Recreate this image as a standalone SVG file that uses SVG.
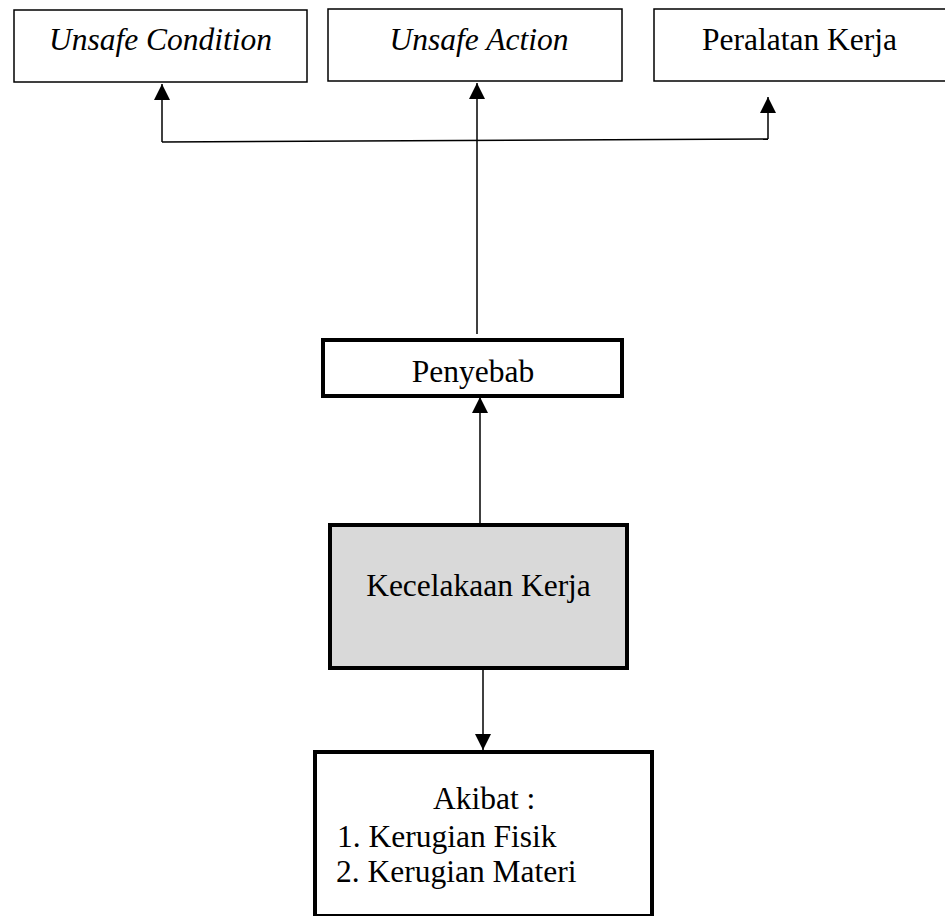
<svg xmlns="http://www.w3.org/2000/svg" width="945" height="916" viewBox="0 0 945 916">
<style>
  .t { font-family: 'Liberation Serif', 'DejaVu Serif', serif; font-size: 31.5px; fill: #000; }
  .it { font-style: italic; }
  .thin { fill: #fff; stroke: #000; stroke-width: 1.5; }
  .thick { fill: #fff; stroke: #000; stroke-width: 4; }
  .grey { fill: #d9d9d9; stroke: #000; stroke-width: 4; }
  .conn { stroke: #000; stroke-width: 1.5; fill: none; }
</style>
<defs>
  <marker id="ah" viewBox="0 0 16 16" refX="16" refY="8" markerWidth="16" markerHeight="16" markerUnits="userSpaceOnUse" orient="auto">
    <path d="M0,0 L16,8 L0,16 Z" fill="#000"/>
  </marker>
</defs>
<g id="unsafe-condition">
  <rect class="thin" x="14" y="10" width="293" height="72"/>
  <text class="t it" font-family="Liberation Serif, serif" x="160.5" y="50" text-anchor="middle">Unsafe Condition</text>
</g>
<g id="unsafe-action">
  <rect class="thin" x="328" y="9" width="294" height="72"/>
  <text class="t it" font-family="Liberation Serif, serif" x="479" y="50" text-anchor="middle">Unsafe Action</text>
</g>
<g id="peralatan-kerja">
  <rect class="thin" x="654" y="9" width="300" height="72"/>
  <text class="t" font-family="Liberation Serif, serif" x="799.5" y="50" text-anchor="middle">Peralatan Kerja</text>
</g>
<g id="penyebab">
  <rect class="thick" x="323" y="340" width="299" height="56"/>
  <text class="t" font-family="Liberation Serif, serif" x="473" y="382" text-anchor="middle">Penyebab</text>
</g>
<g id="kecelakaan-kerja">
  <rect class="grey" x="330" y="525" width="297" height="143"/>
  <text class="t" font-family="Liberation Serif, serif" x="478.5" y="596" text-anchor="middle">Kecelakaan Kerja</text>
</g>
<g id="akibat">
  <rect class="thick" x="315" y="752" width="337" height="164"/>
  <text class="t" font-family="Liberation Serif, serif" x="433" y="809">Akibat :</text>
  <text class="t" font-family="Liberation Serif, serif" x="337" y="847">1. Kerugian Fisik</text>
  <text class="t" font-family="Liberation Serif, serif" x="336" y="882">2. Kerugian Materi</text>
</g>
<g id="connectors">
  <line class="conn" x1="162" y1="142" x2="768" y2="139"/>
  <line class="conn" x1="162" y1="142" x2="162" y2="84" marker-end="url(#ah)"/>
  <line class="conn" x1="768" y1="139" x2="768" y2="97" marker-end="url(#ah)"/>
  <line class="conn" x1="477" y1="334" x2="477" y2="83" marker-end="url(#ah)"/>
  <line class="conn" x1="480" y1="523" x2="480" y2="397" marker-end="url(#ah)"/>
  <line class="conn" x1="483" y1="670" x2="483" y2="750" marker-end="url(#ah)"/>
</g>
</svg>
